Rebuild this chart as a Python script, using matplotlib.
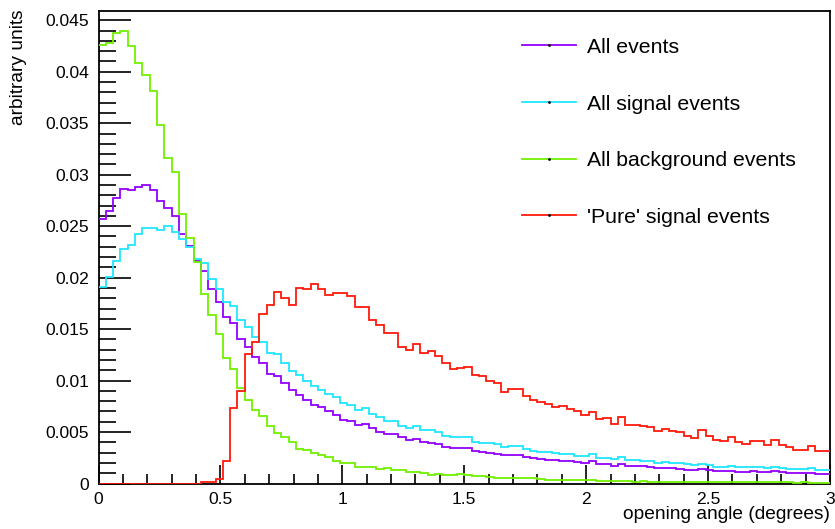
import numpy as np
import matplotlib
matplotlib.use("Agg")
import matplotlib.pyplot as plt
from matplotlib.ticker import MultipleLocator, FixedLocator
from matplotlib.lines import Line2D

plt.rcParams['font.family'] = ['Liberation Sans', 'DejaVu Sans']

# histogram binning: 100 bins from 0 to 3 degrees
bin_edges = np.linspace(0.0, 3.0, 101)

all_events = [
    0.02565, 0.02643, 0.02776, 0.02862, 0.02854, 0.02877, 0.02898, 0.02854, 0.02745, 0.02680,
    0.02603, 0.02420, 0.02305, 0.02162, 0.02064, 0.01892, 0.01766, 0.01616, 0.01561, 0.01405,
    0.01327, 0.01230, 0.01171, 0.01067, 0.01041, 0.00976, 0.00905, 0.00856, 0.00807, 0.00765,
    0.00739, 0.00700, 0.00668, 0.00619, 0.00603, 0.00564, 0.00577, 0.00537, 0.00498, 0.00482,
    0.00482, 0.00447, 0.00424, 0.00431, 0.00408, 0.00391, 0.00382, 0.00359, 0.00342, 0.00346,
    0.00342, 0.00320, 0.00310, 0.00300, 0.00287, 0.00274, 0.00274, 0.00280, 0.00255, 0.00245,
    0.00242, 0.00232, 0.00229, 0.00219, 0.00216, 0.00209, 0.00203, 0.00216, 0.00190, 0.00190,
    0.00174, 0.00190, 0.00170, 0.00170, 0.00167, 0.00161, 0.00151, 0.00154, 0.00148, 0.00145,
    0.00135, 0.00128, 0.00138, 0.00132, 0.00122, 0.00122, 0.00125, 0.00115, 0.00115, 0.00119,
    0.00115, 0.00109, 0.00119, 0.00109, 0.00102, 0.00099, 0.00099, 0.00106, 0.00093, 0.00093,
]

signal_events = [
    0.01912, 0.02009, 0.02166, 0.02276, 0.02321, 0.02419, 0.02483, 0.02483, 0.02458, 0.02497,
    0.02445, 0.02373, 0.02295, 0.02178, 0.02139, 0.01983, 0.01889, 0.01764, 0.01724, 0.01590,
    0.01516, 0.01427, 0.01372, 0.01269, 0.01259, 0.01171, 0.01096, 0.01054, 0.00992, 0.00944,
    0.00911, 0.00872, 0.00836, 0.00781, 0.00765, 0.00716, 0.00732, 0.00677, 0.00645, 0.00612,
    0.00612, 0.00554, 0.00540, 0.00557, 0.00515, 0.00515, 0.00499, 0.00463, 0.00447, 0.00450,
    0.00450, 0.00408, 0.00398, 0.00391, 0.00385, 0.00359, 0.00365, 0.00365, 0.00333, 0.00320,
    0.00310, 0.00307, 0.00294, 0.00287, 0.00284, 0.00271, 0.00268, 0.00284, 0.00248, 0.00248,
    0.00235, 0.00255, 0.00229, 0.00229, 0.00222, 0.00216, 0.00203, 0.00209, 0.00203, 0.00196,
    0.00187, 0.00180, 0.00190, 0.00177, 0.00164, 0.00164, 0.00170, 0.00157, 0.00157, 0.00164,
    0.00157, 0.00151, 0.00161, 0.00148, 0.00145, 0.00138, 0.00138, 0.00148, 0.00132, 0.00132,
]

background_events = [
    0.04257, 0.04284, 0.04381, 0.04391, 0.04248, 0.04086, 0.03965, 0.03816, 0.03487, 0.03166,
    0.03029, 0.02620, 0.02380, 0.02147, 0.01839, 0.01637, 0.01448, 0.01220, 0.01115, 0.00930,
    0.00810, 0.00711, 0.00658, 0.00560, 0.00489, 0.00450, 0.00408, 0.00333, 0.00326, 0.00300,
    0.00278, 0.00255, 0.00222, 0.00203, 0.00196, 0.00164, 0.00157, 0.00164, 0.00141, 0.00147,
    0.00131, 0.00135, 0.00112, 0.00112, 0.00099, 0.00083, 0.00093, 0.00083, 0.00083, 0.00089,
    0.00083, 0.00073, 0.00073, 0.00067, 0.00050, 0.00050, 0.00057, 0.00050, 0.00050, 0.00057,
    0.00044, 0.00031, 0.00034, 0.00037, 0.00031, 0.00034, 0.00031, 0.00034, 0.00028, 0.00024,
    0.00021, 0.00021, 0.00022, 0.00019, 0.00020, 0.00018, 0.00019, 0.00017, 0.00018, 0.00016,
    0.00017, 0.00015, 0.00016, 0.00014, 0.00015, 0.00013, 0.00014, 0.00012, 0.00013, 0.00012,
    0.00011, 0.00012, 0.00010, 0.00011, 0.00010, 0.00009, 0.00010, 0.00009, 0.00008, 0.00008,
]

pure_signal_events = [
    0.0, 0.0, 0.0, 0.0, 0.0, 0.0, 0.0, 0.0, 0.0, 0.0,
    0.0, 0.0, 0.0, 0.0, 0.0001, 0.0001, 0.0004, 0.0022, 0.0073, 0.0090,
    0.0126, 0.0137, 0.0165, 0.0173, 0.0186, 0.0180, 0.0173, 0.0190, 0.0189, 0.0194,
    0.0189, 0.0183, 0.0185, 0.0185, 0.0182, 0.0171, 0.0171, 0.0159, 0.0154, 0.0146,
    0.0146, 0.0133, 0.0130, 0.0136, 0.0127, 0.0129, 0.0124, 0.0117, 0.0111, 0.0112,
    0.0113, 0.0105, 0.0104, 0.0100, 0.0098, 0.0089, 0.0092, 0.0092, 0.0085, 0.0081,
    0.0079, 0.0077, 0.0074, 0.0075, 0.0072, 0.0070, 0.0067, 0.0069, 0.0063, 0.0064,
    0.0058, 0.0065, 0.0057, 0.0057, 0.0056, 0.0055, 0.0051, 0.0053, 0.0051, 0.0050,
    0.0046, 0.0044, 0.0052, 0.0046, 0.0042, 0.0041, 0.0045, 0.0040, 0.0038, 0.0041,
    0.0041, 0.0037, 0.0042, 0.0037, 0.0035, 0.0033, 0.0033, 0.0036, 0.0032, 0.0032,
]

series_labels = ["All events", "All signal events", "All background events", "'Pure' signal events"]
series_colors = ["#9400ff", "#1ee6ff", "#70f000", "#ff1a0a"]
series_values = [all_events, signal_events, background_events, pure_signal_events]

x_ticks = [0, 0.5, 1, 1.5, 2, 2.5, 3]
x_tick_labels = ["0", "0.5", "1", "1.5", "2", "2.5", "3"]
y_ticks = [0, 0.005, 0.01, 0.015, 0.02, 0.025, 0.03, 0.035, 0.04, 0.045]
y_tick_labels = ["0", "0.005", "0.01", "0.015", "0.02", "0.025", "0.03", "0.035", "0.04", "0.045"]

fig = plt.figure(figsize=(8.35, 5.29), dpi=100)
ax = fig.add_axes([98.5 / 835, 1 - 483.5 / 529, (830 - 98.5) / 835, (483.5 - 11) / 529])

handles = []
for vals, col, lab in zip(series_values, series_colors, series_labels):
    ax.stairs(vals, bin_edges, baseline=None, color=col, linewidth=1.3, zorder=3)
    handles.append(Line2D([], [], color=col, linewidth=1.3, marker='.', markersize=2,
                          markerfacecolor='black', markeredgecolor='black', label=lab))

ax.set_xlim(0, 3)
ax.set_ylim(0, 0.0459)

ax.xaxis.set_major_locator(FixedLocator(x_ticks))
ax.set_xticklabels(x_tick_labels)
ax.xaxis.set_minor_locator(MultipleLocator(0.1))
ax.yaxis.set_major_locator(FixedLocator(y_ticks))
ax.set_yticklabels(y_tick_labels)
ax.yaxis.set_minor_locator(MultipleLocator(0.001))

ax.tick_params(axis='x', which='major', direction='in', length=14, width=1.2, pad=6,
               labelsize=12.6, top=False)
ax.tick_params(axis='x', which='minor', direction='in', length=7, width=1.2, top=False)
ax.tick_params(axis='y', which='major', direction='in', length=23, width=1.2, pad=7,
               labelsize=12.6, right=False)
ax.tick_params(axis='y', which='minor', direction='in', length=12, width=1.2, right=False)

for s in ax.spines.values():
    s.set_linewidth(1.3)

ax.text(1.0, -0.066, "opening angle (degrees)", transform=ax.transAxes,
        ha='right', va='center', fontsize=13.8)
ax.text(-0.110, 1.003, "arbitrary units", transform=ax.transAxes, rotation=90,
        ha='center', va='top', fontsize=13.8)

leg = ax.legend(handles=handles, loc='upper left', bbox_to_anchor=(0.5676, 0.961),
                frameon=False, fontsize=15.3, handlelength=2.55, handletextpad=0.5,
                labelspacing=1.77, borderaxespad=0.0)

fig.savefig("out.png", dpi=100)
